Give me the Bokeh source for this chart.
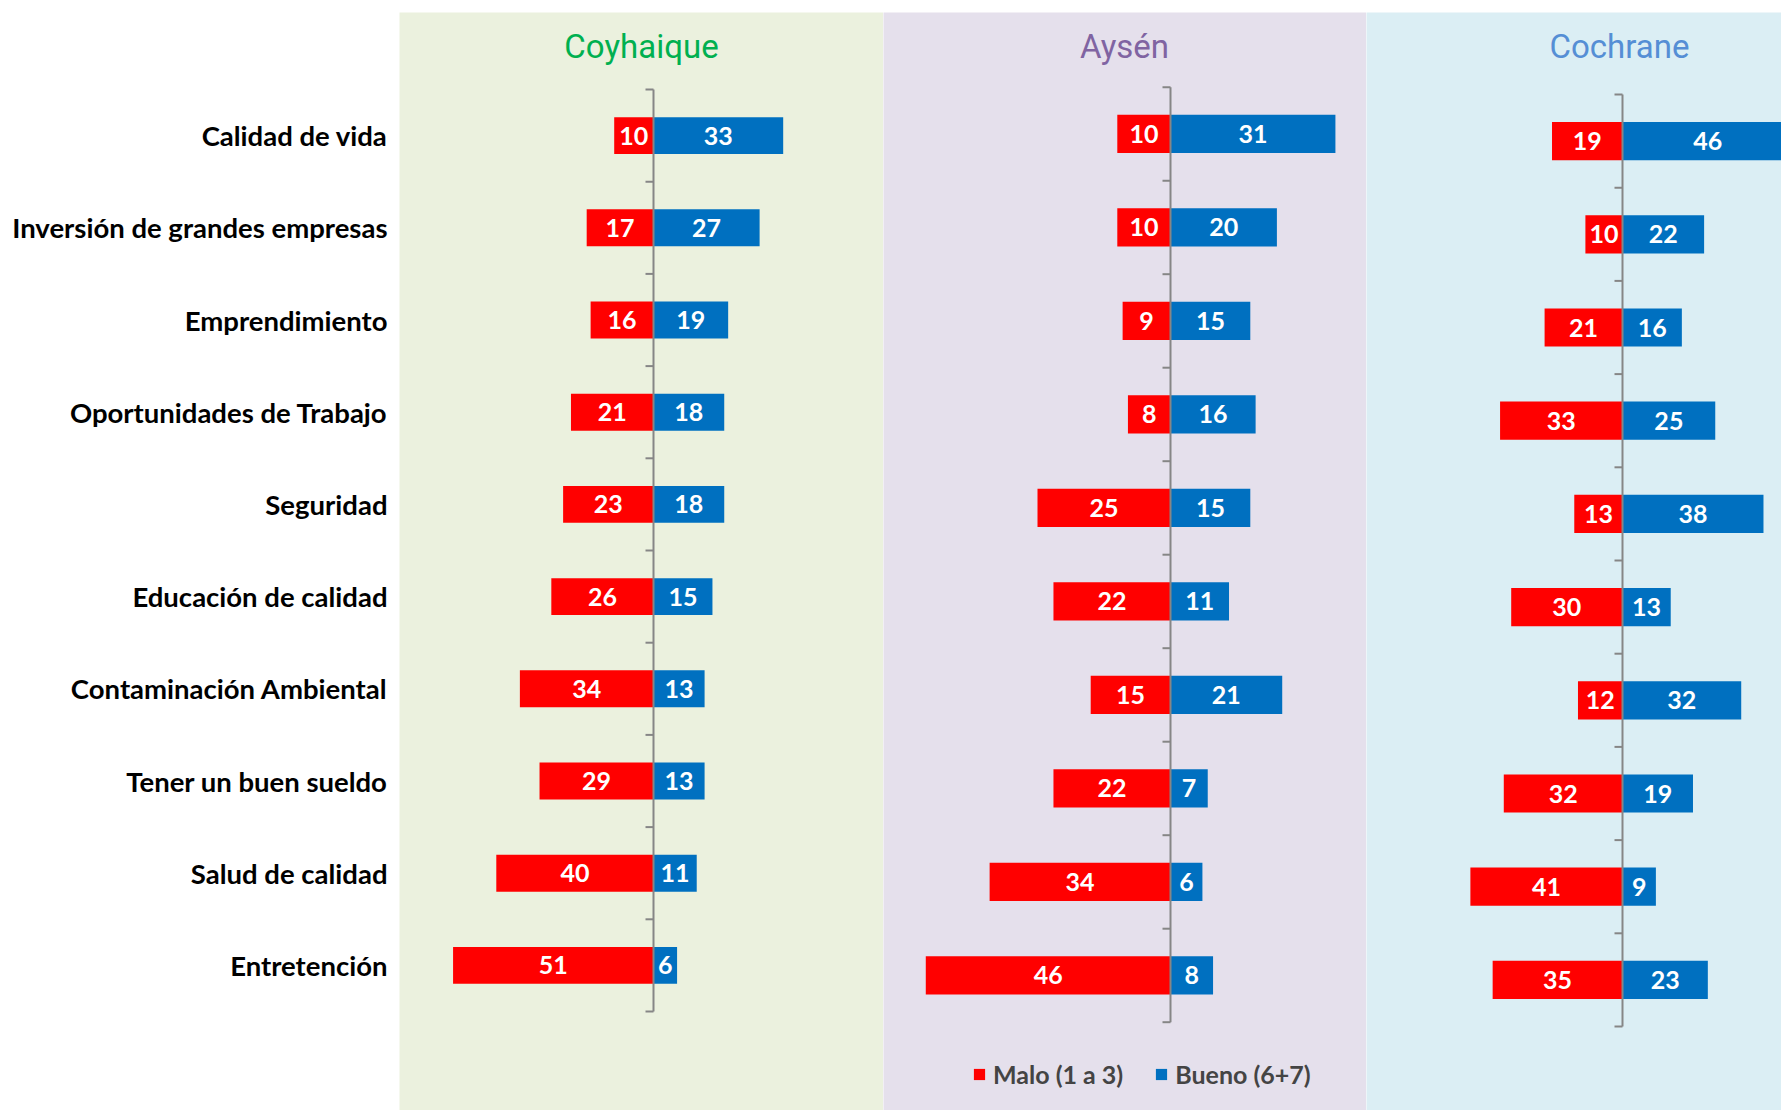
from bokeh.plotting import figure
from bokeh.models import (Range1d, LinearAxis, FixedTicker, Label, Legend,
                          LegendItem, ColumnDataSource)
from bokeh.layouts import row
from bokeh.embed import file_html
from bokeh.resources import INLINE
from bokeh.core.properties import value

categories = ["Calidad de vida", "Inversión de grandes empresas", "Emprendimiento",
              "Oportunidades de Trabajo", "Seguridad", "Educación de calidad",
              "Contaminación Ambiental", "Tener un buen sueldo", "Salud de calidad",
              "Entretención"]

coyhaique_malo = [10, 17, 16, 21, 23, 26, 34, 29, 40, 51]
coyhaique_bueno = [33, 27, 19, 18, 18, 15, 13, 13, 11, 6]
aysen_malo = [10, 10, 9, 8, 25, 22, 15, 22, 34, 46]
aysen_bueno = [31, 20, 15, 16, 15, 11, 21, 7, 6, 8]
cochrane_malo = [19, 10, 21, 33, 13, 30, 12, 32, 41, 35]
cochrane_bueno = [46, 22, 16, 25, 38, 13, 32, 19, 9, 23]

series_labels = ["Malo (1 a 3)", "Bueno (6+7)"]
RED = "#FF0000"
BLUE = "#0070C0"
AXIS_GRAY = "#868686"

H = 1110
FRAME_TOP = 12
FH = H - FRAME_TOP

panels = [
    dict(name="Coyhaique", malo=coyhaique_malo, bueno=coyhaique_bueno,
         tcolor="#00B050", bg="#EBF1DE", fw=484, left=399, zero=254, scale=3.93,
         top=89.0, band=92.2, bar_h=0.40, title_x=242),
    dict(name="Aysén", malo=aysen_malo, bueno=aysen_bueno,
         tcolor="#8064A2", bg="#E5E0EC", fw=483, left=0, zero=287, scale=5.32,
         top=86.7, band=93.5, bar_h=0.41, title_x=241),
    dict(name="Cochrane", malo=cochrane_malo, bueno=cochrane_bueno,
         tcolor="#558ED5", bg="#DBEEF4", fw=415, left=0, zero=256, scale=3.71,
         top=94.0, band=93.2, bar_h=0.41, title_x=253),
]

figs = []
for k, pn in enumerate(panels):
    x0 = -pn["zero"] / pn["scale"]
    x1 = (pn["fw"] - pn["zero"]) / pn["scale"]
    yb = (FRAME_TOP + FH - pn["top"]) / pn["band"] - 0.5
    yt = (FRAME_TOP - pn["top"]) / pn["band"] - 0.5
    p = figure(width=pn["fw"] + pn["left"], height=H, output_backend="svg",
               toolbar_location=None, x_range=Range1d(x0, x1),
               y_range=Range1d(yb, yt), x_axis_location=None, y_axis_location=None,
               min_border_left=pn["left"], min_border_right=0,
               min_border_top=FRAME_TOP, min_border_bottom=0)
    p.background_fill_color = pn["bg"]
    p.border_fill_color = "white"
    p.outline_line_color = None
    p.xgrid.visible = False
    p.ygrid.visible = False

    n = len(categories)
    ys = list(range(n))
    src = ColumnDataSource(dict(
        y=ys,
        malo_left=[-v for v in pn["malo"]],
        zero=[0] * n,
        bueno=pn["bueno"],
        malo_mid=[-v / 2 for v in pn["malo"]],
        bueno_mid=[v / 2 for v in pn["bueno"]],
        malo_txt=[str(v) for v in pn["malo"]],
        bueno_txt=[str(v) for v in pn["bueno"]],
    ))
    r_malo = p.hbar(y="y", left="malo_left", right="zero", height=pn["bar_h"],
                    fill_color=RED, line_color=None, source=src)
    r_bueno = p.hbar(y="y", left="zero", right="bueno", height=pn["bar_h"],
                     fill_color=BLUE, line_color=None, source=src)

    # zero axis with ticks at band edges
    tick_len = 8 / pn["scale"]
    edges = [i - 0.5 for i in range(n + 1)]
    p.segment(x0=[0], y0=[-0.5], x1=[0], y1=[n - 0.5],
              line_color=AXIS_GRAY, line_width=2)
    p.segment(x0=[-tick_len] * len(edges), y0=edges, x1=[0] * len(edges), y1=edges,
              line_color=AXIS_GRAY, line_width=2)

    p.text(x="malo_mid", y="y", text="malo_txt", source=src, text_color="white",
           text_font=value("Lato"), text_font_style="bold", text_font_size="25px",
           text_align="center", text_baseline="middle")
    p.text(x="bueno_mid", y="y", text="bueno_txt", source=src, text_color="white",
           text_font=value("Lato"), text_font_style="bold", text_font_size="25px",
           text_align="center", text_baseline="middle")

    p.add_layout(Label(x=pn["title_x"], y=FH - (46 - FRAME_TOP), x_units="screen",
                       y_units="screen", text=pn["name"], text_color=pn["tcolor"],
                       text_font="Roboto", text_font_size="33px",
                       text_align="center", text_baseline="alphabetic"))

    if k == 0:
        ax = LinearAxis(ticker=FixedTicker(ticks=ys),
                        major_label_overrides={i: c for i, c in enumerate(categories)})
        ax.axis_line_color = None
        ax.major_tick_line_color = None
        ax.minor_tick_line_color = None
        ax.major_tick_out = 0
        ax.major_tick_in = 0
        ax.major_label_standoff = 12
        ax.major_label_text_font = "Lato"
        ax.major_label_text_font_style = "bold"
        ax.major_label_text_font_size = "27.5px"
        ax.major_label_text_color = "black"
        p.add_layout(ax, "left")

    if k == 1:
        legend = Legend(items=[LegendItem(label=series_labels[0], renderers=[r_malo]),
                               LegendItem(label=series_labels[1], renderers=[r_bueno])],
                        orientation="horizontal", location=(89, 21),
                        glyph_width=14, glyph_height=14, label_standoff=7, spacing=31,
                        padding=0, margin=0, background_fill_alpha=0,
                        border_line_alpha=0, label_text_font="Lato",
                        label_text_font_style="bold", label_text_font_size="25px",
                        label_height=14)
        p.add_layout(legend)
    figs.append(p)

layout = row(*figs, spacing=0)
open("out.html", "w").write(file_html(layout, INLINE))
